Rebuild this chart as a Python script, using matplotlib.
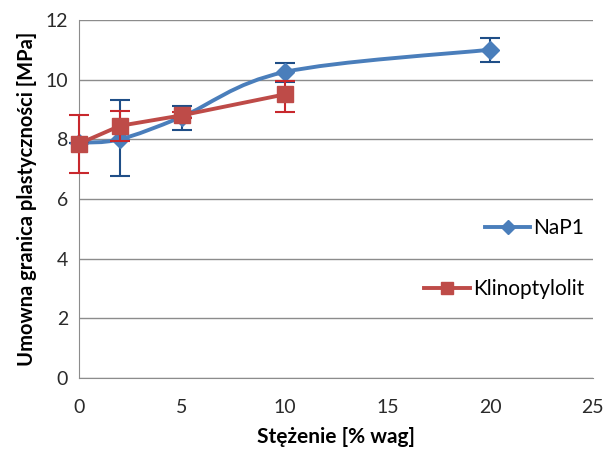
import numpy as np
import matplotlib
matplotlib.use("Agg")
import matplotlib.pyplot as plt
from matplotlib.path import Path
from matplotlib.patches import PathPatch
from matplotlib.lines import Line2D

plt.rcParams['font.family'] = ['Lato', 'DejaVu Sans']

# data
stezenie_nap1 = [0, 2, 5, 10, 20]
nap1 = [7.88, 8.0, 8.75, 10.25, 11.0]
nap1_err_lo = [0.0, 1.23, 0.45, 0.32, 0.4]
nap1_err_hi = [0.0, 1.3, 0.35, 0.3, 0.4]

stezenie_klino = [0, 2, 5, 10]
klino = [7.85, 8.45, 8.8, 9.5]
klino_err_lo = [0.98, 0.5, 0.1, 0.6]
klino_err_hi = [0.97, 0.5, 0.1, 0.45]

BLUE = "#4a7ebb"
RED = "#be4b48"
GRID = "#8c8c8c"


def smooth_path(ax, xs, ys, color):
    # Excel-like smoothed line: cubic bezier through the points
    xs = np.asarray(xs, float)
    ys = np.asarray(ys, float)
    verts = [(xs[0], ys[0])]
    codes = [Path.MOVETO]
    n = len(xs)
    t = 1 / 6
    for i in range(n - 1):
        p0 = (xs[max(i - 1, 0)], ys[max(i - 1, 0)])
        p1 = (xs[i], ys[i])
        p2 = (xs[i + 1], ys[i + 1])
        p3 = (xs[min(i + 2, n - 1)], ys[min(i + 2, n - 1)])
        c1 = (p1[0] + (p2[0] - p0[0]) * t, p1[1] + (p2[1] - p0[1]) * t)
        c2 = (p2[0] - (p3[0] - p1[0]) * t, p2[1] - (p3[1] - p1[1]) * t)
        verts += [c1, c2, p2]
        codes += [Path.CURVE4] * 3
    patch = PathPatch(Path(verts, codes), facecolor="none", edgecolor=color,
                      lw=2.8, capstyle="round", zorder=3)
    ax.add_patch(patch)


fig = plt.figure(figsize=(6.08, 4.51), dpi=100)
ax = fig.add_axes([0.130, 0.162, 0.845, 0.794])

smooth_path(ax, stezenie_nap1, nap1, BLUE)
eb = ax.errorbar(stezenie_nap1, nap1, yerr=[nap1_err_lo, nap1_err_hi], fmt="none",
                 ecolor="#1f4e87", elinewidth=1.5, capsize=7, capthick=1.5, zorder=4)
for a in eb.lines[1] + eb.lines[2]:
    a.set_clip_on(False)
ax.plot(stezenie_nap1, nap1, linestyle="none", marker="D", ms=9,
        color=BLUE, zorder=5, clip_on=False)

eb = ax.errorbar(stezenie_klino, klino, yerr=[klino_err_lo, klino_err_hi], fmt="none",
                 ecolor="#c8282d", elinewidth=1.5, capsize=7, capthick=1.5, zorder=6)
for a in eb.lines[1] + eb.lines[2]:
    a.set_clip_on(False)
ax.plot(stezenie_klino, klino, linestyle="-", lw=2.8, marker="s", ms=11,
        color=RED, zorder=7, clip_on=False)

ax.set_xlim(0, 25)
ax.set_ylim(0, 12)
ax.set_xticks([0, 5, 10, 15, 20, 25])
ax.set_yticks([0, 2, 4, 6, 8, 10, 12])
ax.yaxis.grid(True, color=GRID, lw=1)
ax.set_axisbelow(True)
ax.tick_params(length=0, labelsize=14, colors="#2a2a2a")
ax.tick_params(axis="x", pad=15)
ax.tick_params(axis="y", pad=8)
for s in ["top", "right"]:
    ax.spines[s].set_visible(False)
for s in ["left", "bottom"]:
    ax.spines[s].set_color(GRID)

ax.set_xlabel("Stężenie [% wag]", fontsize=15, fontweight="bold", labelpad=8)
ax.set_ylabel("Umowna granica plastyczności [MPa]", fontsize=14.5,
              fontweight="bold", labelpad=6)

h1 = Line2D([], [], color=BLUE, lw=2.8, marker="D", ms=7)
h2 = Line2D([], [], color=RED, lw=2.8, marker="s", ms=9)
leg1 = ax.legend([h1], ["NaP1"], loc="center right", frameon=False,
                 bbox_to_anchor=(1.0, 0.418), fontsize=15, handlelength=2.2,
                 handletextpad=0.15, borderaxespad=0)
ax.add_artist(leg1)
ax.legend([h2], ["Klinoptylolit"], loc="center right", frameon=False,
          bbox_to_anchor=(1.0, 0.248), fontsize=15, handlelength=2.2,
          handletextpad=0.15, borderaxespad=0)

fig.savefig("out.png", dpi=100)
